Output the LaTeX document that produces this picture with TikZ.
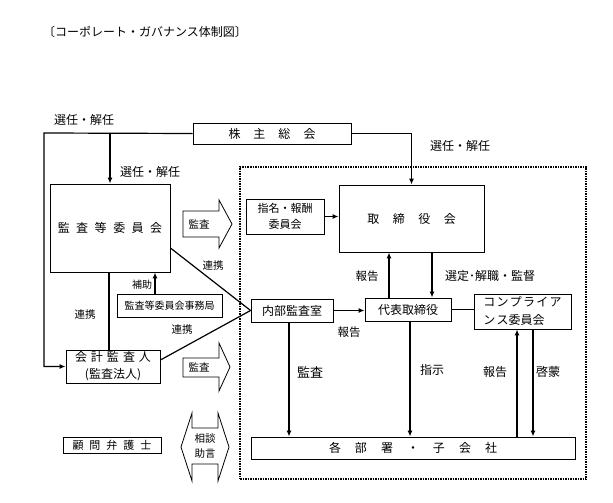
\documentclass[tikz,border=0pt]{standalone}
\usepackage{fontspec}
\setmainfont{Noto Sans CJK JP}
\usetikzlibrary{arrows.meta}
\newcommand\gp[1]{\hspace*{#1pt}}
\begin{document}
\begin{tikzpicture}[x=1pt,y=-1pt,
  box/.style={draw, line width=0.9pt, inner sep=0pt, align=center, font=\fontsize{12}{14}\selectfont},
  arr/.style={line width=1.2pt, -{Latex[length=6pt,width=5pt]}},
  ln/.style={line width=1.2pt},
  lab/.style={inner sep=0pt, font=\fontsize{12}{14}\selectfont},
  slab/.style={inner sep=0pt, font=\fontsize{10.5}{12}\selectfont},
  blk/.style={draw, line width=0.8pt, line join=miter}]
\useasboundingbox (0,0) rectangle (613,503);
\fill[white] (0,0) rectangle (613,503);

% title
\node[lab] (title) at (145,32) {〔コーポレート・ガバナンス体制図〕};

% frame
\node[draw, line width=1.2pt, dash pattern=on 1.5pt off 1pt, minimum width=346, minimum height=312, inner sep=0pt] (frame) at (413,323) {};

% boxes
\node[box, minimum width=158, minimum height=21] (sh) at (272,133.5) {株\gp{13}主\gp{13}総\gp{13}会};
\node[box, minimum width=120, minimum height=88] (kansa) at (110,228) {監\gp{6.5}査\gp{6.5}等\gp{6.5}委\gp{6.5}員\gp{6.5}会};
\node[box, minimum width=78, minimum height=35, font=\fontsize{11}{16}\selectfont] (shimei) at (285,216.5) {指名・報酬\\委員会};
\node[box, minimum width=145, minimum height=67] (tori) at (411.5,218.5) {取\gp{13.5}締\gp{13.5}役\gp{13.5}会};
\node[box, minimum width=86, minimum height=23] (daihyo) at (408,309.5) {代表取締役};
\node[box, minimum width=82, minimum height=23] (naibu) at (292,310.5) {内部監査室};
\node[box, minimum width=97, minimum height=35, align=left, font=\fontsize{12}{18}\selectfont] (comp) at (522.5,311.5) {コ\gp{1.3}ン\gp{1.3}プ\gp{1.3}ラ\gp{1.3}イ\gp{1.3}ア\\ン\gp{1.3}ス委員会};
\node[box, minimum width=324, minimum height=22] (kakubu) at (413,448) {各\gp{14}部\gp{14}署\gp{14}・\gp{14}子\gp{14}会\gp{14}社};
\node[box, minimum width=94, minimum height=33, font=\fontsize{12}{17}\selectfont] (kaikei) at (113,366.5) {会\gp{4}計\gp{4}監\gp{4}査\gp{4}人\\(監査法人)};
\node[box, minimum width=105, minimum height=23, font=\fontsize{10}{12}\selectfont] (jimu) at (169.5,305.5) {監査等委員会事務局};
\node[box, minimum width=98, minimum height=16, font=\fontsize{11}{12}\selectfont] (komon) at (112,445) {顧\gp{6}問\gp{6}弁\gp{6}護\gp{6}士};

% block arrows
\draw[blk] (183,211) -- (219,211) -- (219,200) -- (232,224) -- (219,248) -- (219,237) -- (183,237) -- cycle;
\node[slab] (ar1) at (199,224) {監査};
\draw[blk] (183,358) -- (219,358) -- (219,343) -- (230,367) -- (219,391) -- (219,377) -- (183,377) -- cycle;
\node[slab] (ar2) at (199,367) {監査};
\draw[blk] (192,428) -- (192,413) -- (181,447) -- (192,481) -- (192,464) -- (218,464) -- (218,481) -- (229,447) -- (218,413) -- (218,428) -- cycle;
\node[slab, align=center, font=\fontsize{10.5}{15}\selectfont] (sodan) at (205,446) {相談\\助言};

% connectors
\coordinate (lc) at (44,133);
\draw[arr] (sh.west) -- (lc) |- (kaikei.west);
\coordinate (b1) at (110,133);
\draw[arr] (b1) -- (kansa.north);
\draw[arr] (sh.east) -| (tori.north);
\draw[arr] (shimei.east) -- (shimei.east -| tori.west);
\coordinate (p1) at ([xshift=-19pt]daihyo.north);
\draw[arr] (p1) -- (p1 |- tori.south);
\coordinate (p2) at ([xshift=20.5pt]tori.south);
\draw[arr] (p2) -- (p2 |- daihyo.north);
\draw[arr] (naibu.east) -- (naibu.east -| daihyo.west);
\draw[ln] (daihyo.east) -- (daihyo.east -| comp.west);
\coordinate (p3) at ([xshift=-3pt]naibu.south);
\draw[arr] (p3) -- (p3 |- kakubu.north);
\coordinate (p4) at ([xshift=2pt]daihyo.south);
\draw[arr] (p4) -- (p4 |- kakubu.north);
\coordinate (p5) at ([xshift=-5.5pt]comp.south);
\draw[arr] (p5 |- kakubu.north) -- (p5);
\coordinate (p6) at ([xshift=10.5pt]comp.south);
\draw[arr] (p6) -- (p6 |- kakubu.north);
\coordinate (p7) at ([xshift=-1pt]kansa.south);
\draw[ln] (p7) -- (p7 |- kaikei.north);
\coordinate (p8) at ([xshift=-14.5pt]jimu.north);
\draw[arr] (p8) -- (p8 |- kansa.south);
\draw[ln] ([yshift=-20pt]kansa.east) -- (naibu.west);
\draw[ln] ([yshift=6.5pt]kaikei.east) -- (naibu.west);

% labels
\node[lab] (l1) at (84,120) {選任・解任};
\node[lab] (l2) at (150,172) {選任・解任};
\node[lab] (l3) at (460,146) {選任・解任};
\node[slab] (l5) at (213,266) {連携};
\node[slab, font=\fontsize{10}{12}\selectfont] (l6) at (142,285) {補助};
\node[slab] (l7) at (85,315) {連携};
\node[slab] (l8) at (182,330) {連携};
\node[slab, font=\fontsize{11.5}{12}\selectfont] (l10) at (367,276) {報告};
\node[lab] (l11) at (490,276) {選定･解職・監督};
\node[slab, font=\fontsize{11.5}{12}\selectfont] (l12) at (349,332) {報告};
\node[lab, font=\fontsize{13}{14}\selectfont] (l13) at (310,372) {監査};
\node[lab] (l14) at (432,370) {指示};
\node[lab] (l15) at (495,372) {報告};
\node[lab] (l16) at (548,372) {啓蒙};
\end{tikzpicture}
\end{document}
